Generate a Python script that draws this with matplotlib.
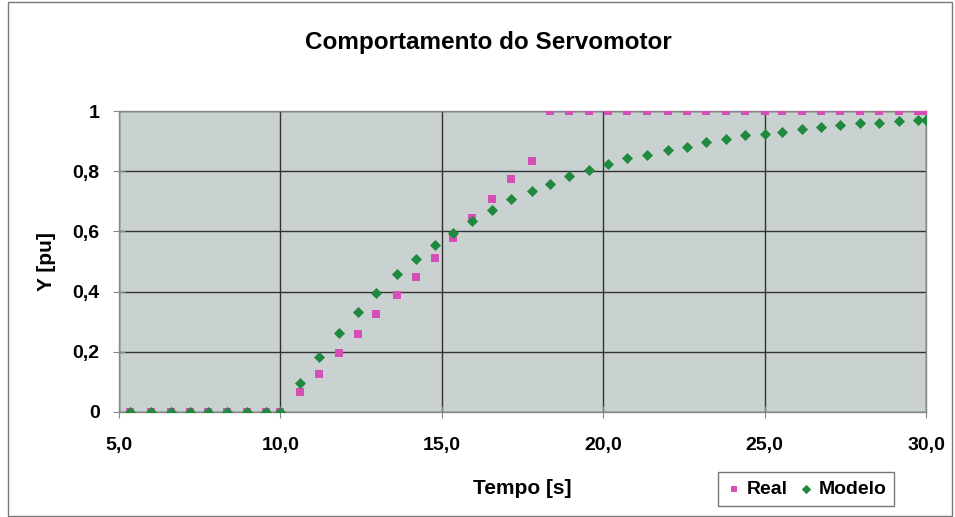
import matplotlib
matplotlib.use("Agg")
import matplotlib.pyplot as plt
from matplotlib.ticker import FuncFormatter
from matplotlib.patches import Rectangle

plt.rcParams['font.family'] = ['Liberation Sans', 'DejaVu Sans']

tempo = [5.35, 6.0, 6.6, 7.2, 7.75, 8.35, 8.95, 9.55, 10.0, 10.6, 11.2, 11.8,
         12.4, 12.95, 13.6, 14.2, 14.8, 15.35, 15.95, 16.55, 17.15, 17.8, 18.35,
         18.95, 19.55, 20.15, 20.75, 21.35, 22.0, 22.6, 23.2, 23.8, 24.4, 25.0,
         25.55, 26.15, 26.75, 27.35, 27.95, 28.55, 29.15, 29.75, 30.0]

real = [0, 0, 0, 0, 0, 0, 0, 0, 0, 0.065, 0.127, 0.197, 0.260, 0.325, 0.388,
        0.449, 0.513, 0.579, 0.646, 0.709, 0.773, 0.835, 1.0, 1.0, 1.0, 1.0,
        1.0, 1.0, 1.0, 1.0, 1.0, 1.0, 1.0, 1.0, 1.0, 1.0, 1.0, 1.0, 1.0, 1.0,
        1.0, 1.0, 1.0]

modelo = [0, 0, 0, 0, 0, 0, 0, 0, 0, 0.097, 0.182, 0.262, 0.333, 0.395, 0.459,
          0.508, 0.555, 0.596, 0.636, 0.671, 0.707, 0.735, 0.757, 0.784, 0.804,
          0.825, 0.843, 0.855, 0.871, 0.882, 0.896, 0.907, 0.919, 0.924, 0.930,
          0.941, 0.948, 0.955, 0.959, 0.960, 0.966, 0.970, 0.970]

x_ticks = [5, 10, 15, 20, 25, 30]
y_ticks = [0, 0.2, 0.4, 0.6, 0.8, 1.0]

W, H = 955, 517
fig = plt.figure(figsize=(W / 100, H / 100), dpi=100)
fig.patch.set_facecolor('white')

# outer border
fig.add_artist(Rectangle((8 / W, 0.002), (952 - 8) / W, (H - 3) / H,
                         transform=fig.transFigure, fill=False,
                         edgecolor='#777777', linewidth=1.0))

left, right, top, bottom = 119, 926, 111, 412
ax = fig.add_axes([left / W, 1 - bottom / H, (right - left) / W, (bottom - top) / H])
ax.set_facecolor('#c9d2d0')

ax.scatter(tempo, real, marker='s', s=28, color='#d64fb4', zorder=3,
           label='Real', linewidths=0)
ax.scatter(tempo, modelo, marker='D', s=32, color='#1f8a3e', zorder=4,
           label='Modelo', linewidths=0)

ax.set_xlim(5, 30)
ax.set_ylim(0, 1)
ax.set_xticks(x_ticks)
ax.set_yticks(y_ticks)
ax.xaxis.set_major_formatter(FuncFormatter(lambda v, p: f"{v:.1f}".replace('.', ',')))
ax.yaxis.set_major_formatter(FuncFormatter(
    lambda v, p: ("0" if v == 0 else ("1" if abs(v - 1) < 1e-9 else f"{v:.1f}".replace('.', ',')))))
ax.grid(True, color='#333333', linewidth=1.0, zorder=1)
ax.set_axisbelow(True)
for s in ax.spines.values():
    s.set_color('#888888')
    s.set_linewidth(1.0)
ax.tick_params(axis='both', direction='inout', length=8, color='#888888',
               labelsize=14)
ax.tick_params(axis='x', pad=14)
ax.tick_params(axis='y', pad=10)
for lab in ax.get_xticklabels() + ax.get_yticklabels():
    lab.set_fontweight('bold')

ax.set_xlabel('Tempo [s]', fontsize=15, fontweight='bold', labelpad=18)
ax.set_ylabel('Y [pu]', fontsize=15, fontweight='bold', labelpad=12)
fig.text(488 / W, 1 - 43 / H, 'Comportamento do Servomotor', ha='center',
         va='center', fontsize=17.5, fontweight='bold')

leg = fig.legend(loc='center', bbox_to_anchor=(806 / W, 1 - 489 / H), ncol=2,
                 frameon=True, fancybox=False, edgecolor='#555555',
                 prop={'size': 14, 'weight': 'bold'}, handletextpad=0.2,
                 columnspacing=0.5, handlelength=0.9, borderpad=0.4,
                 markerscale=0.85)
leg.get_frame().set_linewidth(1.0)

fig.savefig('out.png', dpi=100, facecolor='white')
